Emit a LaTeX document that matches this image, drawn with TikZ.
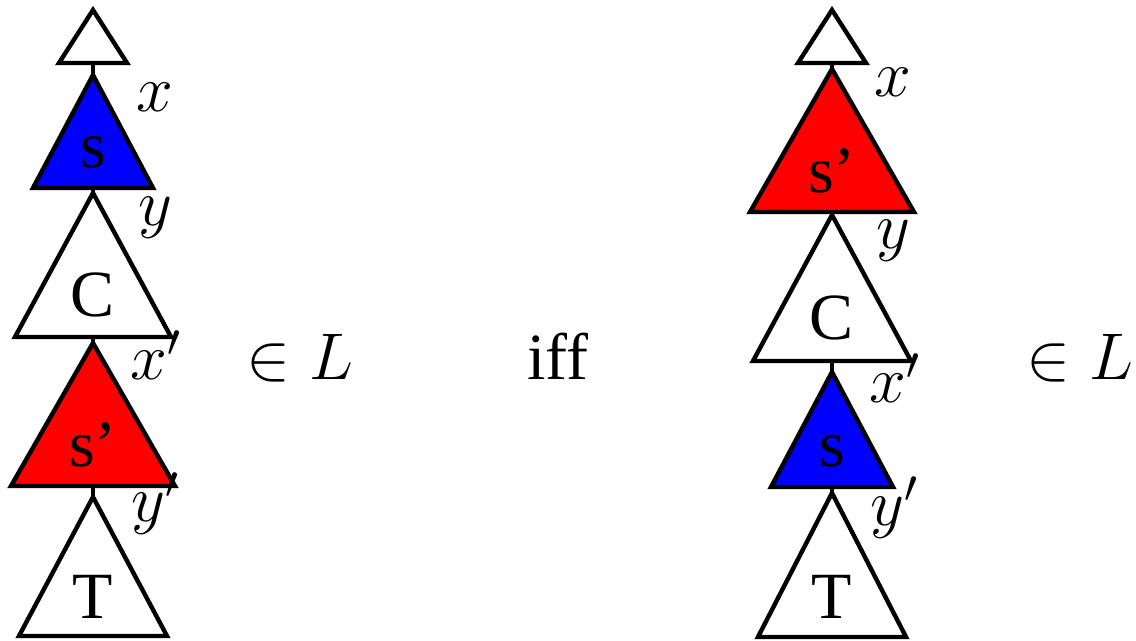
\documentclass[tikz,border=0pt]{standalone}
\usepackage{fix-cm}
\usepackage{fontspec}
\newfontfamily\timesfont{Liberation Serif}

\tikzset{
  tree/.style={draw=black,line width=2.2pt},
  edge/.style={draw=black,line width=1.6pt},
  lbl/.style={inner sep=0pt,anchor=base,font=\fontsize{33}{40}\selectfont},
  part/.style={inner sep=0pt,anchor=base,font=\fontsize{33}{40}\selectfont\timesfont},
}

\begin{document}
\begin{tikzpicture}[x=0.5pt,y=-0.5pt]
  \useasboundingbox (0,0) rectangle (1136,641);

  % left side: context with s above s'
  \coordinate (topL-bot) at (93,63);
  \coordinate (sL-top) at (93,75);   \coordinate (sL-bot) at (93,188);
  \coordinate (cL-top) at (93,193);  \coordinate (cL-bot) at (93,337);
  \coordinate (spL-top) at (93,343); \coordinate (spL-bot) at (93,486);
  \coordinate (tL-top) at (93,497);
  \draw[edge] (topL-bot) -- (sL-top);
  \draw[edge] (sL-bot) -- (cL-top);
  \draw[edge] (cL-bot) -- (spL-top);
  \draw[edge] (spL-bot) -- (tL-top);
  \draw[tree,fill=white] (93,10) -- (127,63) -- (59,63) -- cycle;
  \draw[tree,fill=blue] (sL-top) -- (153,188) -- (33,188) -- cycle;
  \draw[tree,fill=white] (cL-top) -- (171,337) -- (15,337) -- cycle;
  \draw[tree,fill=red] (spL-top) -- (175,486) -- (11,486) -- cycle;
  \draw[tree,fill=white] (tL-top) -- (167,636) -- (19,636) -- cycle;
  \node[part] (sL) at (93,168) {s};
  \node[part] (cL) at (93,317) {C};
  \node[part] (spL) at (93,467) {s’};
  \node[part] (tL) at (93,618) {T};
  \node[lbl] (xL) at (155,112) {$x$};
  \node[lbl] (yL) at (155,226) {$y$};
  \node[lbl] (xpL) at (156,380) {$x'$};
  \node[lbl] (ypL) at (155,522) {$y'$};
  \node[lbl] (inL) at (300,380) {$\in L$};

  \node[part] (iff) at (558,380) {iff};

  % right side: s and s' swapped
  \coordinate (topR-bot) at (832,63);
  \coordinate (spR-top) at (832,69); \coordinate (spR-bot) at (832,212);
  \coordinate (cR-top) at (832,215); \coordinate (cR-bot) at (832,361);
  \coordinate (sR-top) at (832,372); \coordinate (sR-bot) at (832,487);
  \coordinate (tR-top) at (832,493);
  \draw[edge] (topR-bot) -- (spR-top);
  \draw[edge] (spR-bot) -- (cR-top);
  \draw[edge] (cR-bot) -- (sR-top);
  \draw[edge] (sR-bot) -- (tR-top);
  \draw[tree,fill=white] (832,10) -- (866,63) -- (798,63) -- cycle;
  \draw[tree,fill=red] (spR-top) -- (914,212) -- (750,212) -- cycle;
  \draw[tree,fill=white] (cR-top) -- (911,361) -- (753,361) -- cycle;
  \draw[tree,fill=blue] (sR-top) -- (893,487) -- (771,487) -- cycle;
  \draw[tree,fill=white] (tR-top) -- (906,637) -- (758,637) -- cycle;
  \node[part] (spR) at (832,193) {s’};
  \node[part] (cR) at (832,340) {C};
  \node[part] (sR) at (832,467) {s};
  \node[part] (tR) at (832,618) {T};
  \node[lbl] (xR) at (893,97) {$x$};
  \node[lbl] (yR) at (893,249) {$y$};
  \node[lbl] (xpR) at (895,403) {$x'$};
  \node[lbl] (ypR) at (894,526) {$y'$};
  \node[lbl] (inR) at (1080,380) {$\in L$};
\end{tikzpicture}
\end{document}
